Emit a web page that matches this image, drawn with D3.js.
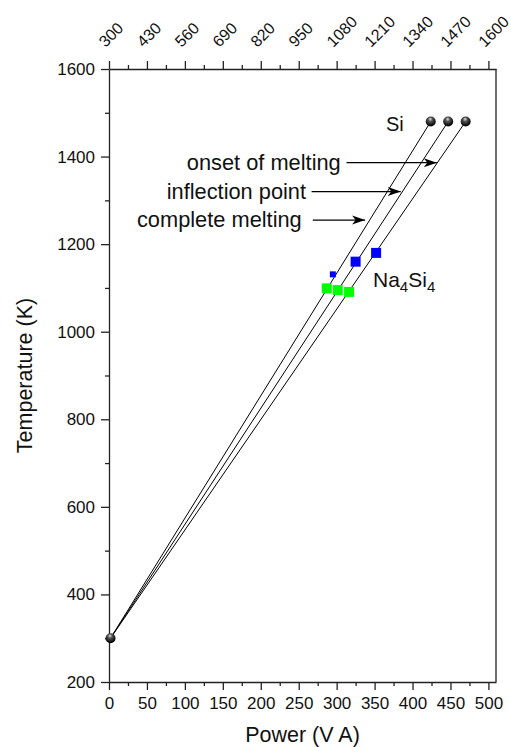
<!DOCTYPE html>
<html>
<head>
<meta charset="utf-8">
<script src="https://cdn.jsdelivr.net/npm/d3@7"></script>
<style>
  html, body { margin: 0; padding: 0; background: #fff; }
  svg { display: block; font-family: "Liberation Sans", Arial, sans-serif; }
</style>
</head>
<body>
<svg id="chart" width="511" height="747"></svg>
<script>
// Heating power vs. temperature calibration for Si and Na4Si4 melting
const powerTicks = [0, 50, 100, 150, 200, 250, 300, 350, 400, 450, 500];
const tempTicks = [200, 400, 600, 800, 1000, 1200, 1400, 1600];
const topTickLabels = [300, 430, 560, 690, 820, 950, 1080, 1210, 1340, 1470, 1600];

// Room-temperature starting point
const startPower = [2];
const startTemp = [300];

// Si melting points (complete melting, inflection point, onset of melting)
const siPower = [424, 447, 470];
const siTemp = [1480, 1480, 1480];

// Na4Si4 points
const naBluePower = [325, 352];
const naBlueTemp = [1160, 1180];
const naBlueSmallPower = [295];
const naBlueSmallTemp = [1131];
const naGreenPower = [287, 301.5, 316.4];
const naGreenTemp = [1099, 1095, 1091];

// Annotation arrows: label, label end, arrow start, arrow tip (power), temperature
const arrowLabels = ["onset of melting", "inflection point", "complete melting"];
const labelEnd = [305.4, 259.7, 254];
const arrowFrom = [313, 267, 268.5];
const arrowTo = [432, 384.5, 337.5];
const arrowTemp = [1386, 1320, 1255];

const svg = d3.select("#chart");
const W = 511, H = 747;
const m = { left: 109, right: 15, top: 69, bottom: 65 };

const x = d3.scaleLinear().domain([0, 510]).range([m.left, W - m.right]);
const y = d3.scaleLinear().domain([200, 1600]).range([H - m.bottom, m.top]);
// Top axis: temperature equivalent of the bottom power scale
const xTop = d3.scaleLinear().domain([300, 300 + 2.6 * 510]).range([m.left, W - m.right]);

const defs = svg.append("defs");
const grad = defs.append("radialGradient").attr("id", "sphere")
  .attr("cx", "45%").attr("cy", "35%").attr("r", "60%")
  .attr("fx", "45%").attr("fy", "25%");
grad.append("stop").attr("offset", "0%").attr("stop-color", "#e8e8e8");
grad.append("stop").attr("offset", "35%").attr("stop-color", "#555");
grad.append("stop").attr("offset", "100%").attr("stop-color", "#000");

defs.append("marker").attr("id", "arrow")
  .attr("markerUnits", "userSpaceOnUse")
  .attr("markerWidth", 16).attr("markerHeight", 12)
  .attr("viewBox", "-14 -6 16 12").attr("refX", 0).attr("refY", 0)
  .attr("orient", "auto")
  .append("path").attr("d", "M0,0 L-13,-4.5 L-9.5,0 L-13,4.5 Z").attr("fill", "#000");

const axisColor = "#222";
const tickFont = "17px";
const fmt = d3.format("d");

// Bottom axis
svg.append("g").attr("transform", `translate(0,${y(200)})`)
  .call(d3.axisBottom(x).tickValues(powerTicks).tickFormat(fmt).tickSize(8).tickPadding(7).tickSizeOuter(0));
svg.append("g").attr("transform", `translate(0,${y(200)})`)
  .call(d3.axisBottom(x).tickValues(d3.range(25, 510, 50)).tickSize(4).tickFormat("").tickSizeOuter(0))
  .select(".domain").remove();

// Left axis
svg.append("g").attr("transform", `translate(${x(0)},0)`)
  .call(d3.axisLeft(y).tickValues(tempTicks).tickFormat(fmt).tickSize(8).tickPadding(6).tickSizeOuter(0));
svg.append("g").attr("transform", `translate(${x(0)},0)`)
  .call(d3.axisLeft(y).tickValues(d3.range(300, 1600, 200)).tickSize(4).tickFormat("").tickSizeOuter(0))
  .select(".domain").remove();

// Top axis
const gT = svg.append("g").attr("transform", `translate(0,${y(1600)})`)
  .call(d3.axisTop(xTop).tickValues(topTickLabels).tickFormat(fmt).tickSize(8).tickSizeOuter(0));
svg.append("g").attr("transform", `translate(0,${y(1600)})`)
  .call(d3.axisTop(xTop).tickValues(d3.range(365, 1626, 130)).tickSize(4).tickFormat("").tickSizeOuter(0))
  .select(".domain").remove();

// Right frame line
svg.append("line")
  .attr("x1", x(510)).attr("x2", x(510))
  .attr("y1", y(1600)).attr("y2", y(200))
  .attr("stroke", axisColor).attr("stroke-width", 1.3);

svg.selectAll(".domain").attr("stroke", axisColor).attr("stroke-width", 1.3);
svg.selectAll(".tick line").attr("stroke", axisColor).attr("stroke-width", 1.3);
svg.selectAll(".tick text").attr("font-size", tickFont)
  .attr("font-family", "'Liberation Sans', Arial, sans-serif").attr("fill", "#111");

gT.selectAll(".tick text")
  .attr("text-anchor", "start")
  .attr("x", null).attr("y", null).attr("dy", null)
  .attr("font-size", "16px")
  .attr("transform", "translate(-4,-21) rotate(-45)");

// Axis titles
svg.append("text").attr("x", (x(0) + x(510)) / 2).attr("y", 742)
  .attr("text-anchor", "middle").attr("font-size", "21.5px").attr("fill", "#111")
  .text("Power (V A)");
svg.append("text")
  .attr("transform", `translate(32,${(y(200) + y(1600)) / 2}) rotate(-90)`)
  .attr("text-anchor", "middle").attr("font-size", "21.5px").attr("fill", "#111")
  .text("Temperature (K)");

// Linear heating lines from the starting point to each Si melting point
const plot = svg.append("g");
siPower.forEach((p, i) => {
  plot.append("line")
    .attr("x1", x(startPower[0])).attr("y1", y(startTemp[0]))
    .attr("x2", x(p)).attr("y2", y(siTemp[i]))
    .attr("stroke", "#000").attr("stroke-width", 1);
});

// Na4Si4 squares
function squares(px, py, size, color) {
  plot.selectAll(null).data(px).enter().append("rect")
    .attr("x", (d) => x(d) - size / 2)
    .attr("y", (d, i) => y(py[i]) - size / 2)
    .attr("width", size).attr("height", size)
    .attr("fill", color);
}
squares(naBlueSmallPower, naBlueSmallTemp, 6, "#0000ff");
squares(naBluePower, naBlueTemp, 10, "#0000ff");
squares(naGreenPower, naGreenTemp, 10, "#00ff00");

// Spheres
function spheres(px, py) {
  plot.selectAll(null).data(px).enter().append("circle")
    .attr("cx", (d) => x(d)).attr("cy", (d, i) => y(py[i]))
    .attr("r", 5).attr("fill", "url(#sphere)");
}
spheres(siPower, siTemp);
spheres(startPower, startTemp);

// Annotation arrows and labels
arrowLabels.forEach((label, i) => {
  plot.append("line")
    .attr("x1", x(arrowFrom[i])).attr("x2", x(arrowTo[i]))
    .attr("y1", y(arrowTemp[i])).attr("y2", y(arrowTemp[i]))
    .attr("stroke", "#000").attr("stroke-width", 1.2)
    .attr("marker-end", "url(#arrow)");
  plot.append("text")
    .attr("x", x(labelEnd[i])).attr("y", y(arrowTemp[i]) + 7)
    .attr("text-anchor", "end").attr("font-size", "21.8px").attr("fill", "#111")
    .text(label);
});

svg.append("text").attr("x", 386).attr("y", 131)
  .attr("font-size", "20px").attr("fill", "#111").text("Si");

const na = svg.append("text").attr("x", 373).attr("y", 287)
  .attr("font-size", "21px").attr("fill", "#111");
na.append("tspan").text("Na");
na.append("tspan").attr("font-size", "15px").attr("dy", 5).text("4");
na.append("tspan").attr("dy", -5).text("Si");
na.append("tspan").attr("font-size", "15px").attr("dy", 5).text("4");
</script>
</body>
</html>
